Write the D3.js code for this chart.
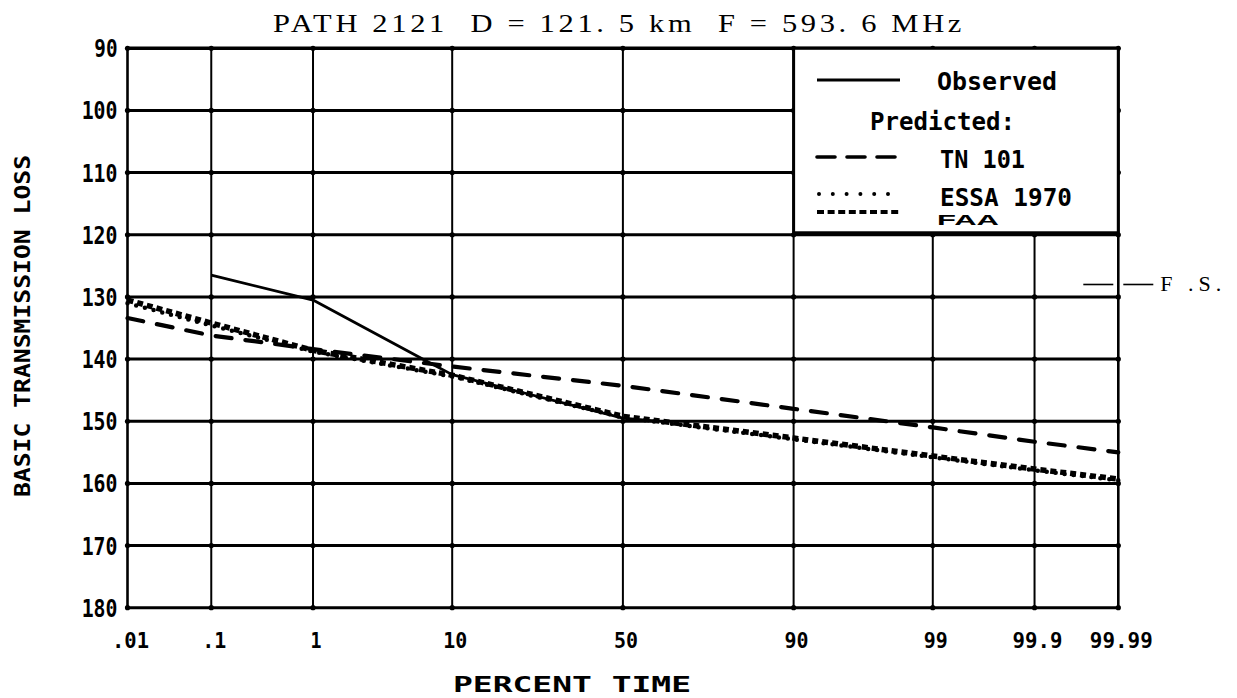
<!DOCTYPE html>
<html>
<head>
<meta charset="utf-8">
<script src="https://cdn.jsdelivr.net/npm/d3@7"></script>
<style>
  html, body { margin: 0; padding: 0; background: #fff; }
  svg { display: block; }
  .plot { font-family: "DejaVu Sans Mono", monospace; font-weight: bold; fill: #000; }
  .serif { font-family: "Liberation Serif", "DejaVu Serif", serif; font-weight: normal; fill: #000; white-space: pre; }
</style>
</head>
<body>
<svg id="chart" width="1237" height="698"></svg>
<script>
// ---------------- data ----------------
const titleText = "PATH 2121  D = 121. 5 km  F = 593. 6 MHz";
const yAxisTitle = "BASIC TRANSMISSION LOSS";
const xAxisTitle = "PERCENT TIME";

const xTickValues = [0.01, 0.1, 1, 10, 50, 90, 99, 99.9, 99.99];
const xTickLabels = [".01", ".1", "1", "10", "50", "90", "99", "99.9", "99.99"];
const yTickValues = [90, 100, 110, 120, 130, 140, 150, 160, 170, 180];

const observedPct  = [0.1, 1, 7, 10, 50, 60];
const observedLoss = [126.5, 130.5, 140.3, 142.5, 149.5, 150];

const predPct   = [0.01, 0.1, 1, 10, 50, 90, 99, 99.9, 99.99];
const tn101Loss = [133.4, 136.2, 138.4, 141.2, 144.3, 148.0, 151.0, 153.3, 155.0];
const essaLoss  = [131.0, 134.6, 138.8, 142.8, 149.4, 152.9, 155.8, 157.9, 159.5];
const faaLoss   = [130.5, 134.2, 138.6, 142.6, 149.2, 152.7, 155.6, 157.7, 159.3];

const freeSpaceLoss = 128;
const freeSpaceLabel = "F .S.";
const legendLabels = ["Observed", "Predicted:", "TN 101", "ESSA 1970", "FAA"];

// ---------------- helpers ----------------
// inverse standard normal CDF (Acklam)
function probit(p) {
  const a = [-3.969683028665376e+01, 2.209460984245205e+02, -2.759285104469687e+02, 1.383577518672690e+02, -3.066479806614716e+01, 2.506628277459239e+00];
  const b = [-5.447609879822406e+01, 1.615858368580409e+02, -1.556989798598866e+02, 6.680131188771972e+01, -1.328068155288572e+01];
  const c = [-7.784894002430293e-03, -3.223964580411365e-01, -2.400758277161838e+00, -2.549732539343734e+00, 4.374664141464968e+00, 2.938163982698783e+00];
  const d = [7.784695709041462e-03, 3.224671290700398e-01, 2.445134137142996e+00, 3.754408661907416e+00];
  const pl = 0.02425, ph = 1 - pl;
  let q, r;
  if (p < pl) {
    q = Math.sqrt(-2 * Math.log(p));
    return (((((c[0]*q+c[1])*q+c[2])*q+c[3])*q+c[4])*q+c[5]) / ((((d[0]*q+d[1])*q+d[2])*q+d[3])*q+1);
  } else if (p <= ph) {
    q = p - 0.5; r = q*q;
    return (((((a[0]*r+a[1])*r+a[2])*r+a[3])*r+a[4])*r+a[5])*q / (((((b[0]*r+b[1])*r+b[2])*r+b[3])*r+b[4])*r+1);
  } else {
    q = Math.sqrt(-2 * Math.log(1 - p));
    return -(((((c[0]*q+c[1])*q+c[2])*q+c[3])*q+c[4])*q+c[5]) / ((((d[0]*q+d[1])*q+d[2])*q+d[3])*q+1);
  }
}

// ---------------- layout ----------------
const svg = d3.select("#chart");
svg.append("rect").attr("width", 1237).attr("height", 698).attr("fill", "#fff");

const pLeft = 127.5, pRight = 1118.3, pTop = 48.3, pBottom = 607.7;

const zScale = d3.scaleLinear()
  .domain([probit(0.0001), probit(0.9999)])
  .range([pLeft, pRight]);
const x = p => zScale(probit(p / 100));
const y = d3.scaleLinear().domain([90, 180]).range([pTop, pBottom]);

// grid: horizontal lines
const grid = svg.append("g");
grid.selectAll("line.h").data(yTickValues).join("line").attr("class", "h")
  .attr("x1", pLeft).attr("x2", pRight)
  .attr("y1", d => y(d)).attr("y2", d => y(d))
  .attr("stroke", "#000").attr("stroke-width", (d, i) => (i === 0 ? 3.4 : 3));
// vertical lines
grid.selectAll("line.v").data(xTickValues).join("line").attr("class", "v")
  .attr("x1", d => x(d)).attr("x2", d => x(d))
  .attr("y1", pTop).attr("y2", pBottom)
  .attr("stroke", "#000").attr("stroke-width", (d, i) => (i === 0 || i === xTickValues.length - 1 ? 2.6 : 2));
// plotter dots at intersections
const inter = [];
xTickValues.forEach(xv => yTickValues.forEach(yv => inter.push([xv, yv])));
grid.selectAll("circle").data(inter).join("circle")
  .attr("cx", d => x(d[0])).attr("cy", d => y(d[1])).attr("r", 2.6).attr("fill", "#000");

// y tick labels
svg.append("g").selectAll("text").data(yTickValues).join("text")
  .attr("class", "plot")
  .attr("x", pLeft - 10).attr("y", d => y(d) + 9)
  .attr("text-anchor", "end")
  .attr("font-size", 24)
  .attr("textLength", d => String(d).length * 12.6 - 2)
  .attr("lengthAdjust", "spacingAndGlyphs")
  .text(d => d);

// x tick labels
svg.append("g").selectAll("text").data(xTickValues).join("text")
  .attr("class", "plot")
  .attr("x", d => x(d) + 3).attr("y", 648)
  .attr("text-anchor", "middle")
  .attr("font-size", 21)
  .attr("textLength", (d, i) => xTickLabels[i].length * 13 - 2)
  .attr("lengthAdjust", "spacingAndGlyphs")
  .text((d, i) => xTickLabels[i]);

// axis titles
svg.append("text").attr("class", "plot")
  .attr("x", 572).attr("y", 692).attr("text-anchor", "middle")
  .attr("font-size", 21)
  .attr("textLength", 238).attr("lengthAdjust", "spacingAndGlyphs")
  .text(xAxisTitle);

svg.append("text").attr("class", "plot")
  .attr("transform", "translate(30,326) rotate(-90)")
  .attr("text-anchor", "middle")
  .attr("font-size", 22)
  .attr("textLength", 342).attr("lengthAdjust", "spacingAndGlyphs")
  .text(yAxisTitle);

// title
svg.append("text").attr("class", "serif")
  .attr("xml:space", "preserve")
  .attr("x", 273).attr("y", 31.5)
  .attr("font-size", 25)
  .attr("letter-spacing", 3)
  .attr("textLength", 692).attr("lengthAdjust", "spacingAndGlyphs")
  .text(titleText);

// ---------------- series ----------------
const line = d3.line().x(d => x(d[0])).y(d => y(d[1]));
const plotG = svg.append("g");

plotG.append("path")
  .datum(predPct.map((p, i) => [p, essaLoss[i]]))
  .attr("d", line).attr("fill", "none").attr("stroke", "#000")
  .attr("stroke-width", 4.5).attr("stroke-linecap", "round")
  .attr("stroke-dasharray", "0,9");

plotG.append("path")
  .datum(predPct.map((p, i) => [p, faaLoss[i]]))
  .attr("d", line).attr("fill", "none").attr("stroke", "#000")
  .attr("stroke-width", 5.5).attr("stroke-dasharray", "6,4");

plotG.append("path")
  .datum(predPct.map((p, i) => [p, tn101Loss[i]]))
  .attr("d", line).attr("fill", "none").attr("stroke", "#000")
  .attr("stroke-width", 4.2).attr("stroke-linecap", "round")
  .attr("stroke-dasharray", "16,14");

plotG.append("path")
  .datum(observedPct.map((p, i) => [p, observedLoss[i]]))
  .attr("d", line).attr("fill", "none").attr("stroke", "#000")
  .attr("stroke-width", 2.8).attr("stroke-linejoin", "round");

// free-space marker
const fsY = y(freeSpaceLoss);
svg.append("line").attr("x1", pRight - 35).attr("x2", pRight - 5).attr("y1", fsY).attr("y2", fsY)
  .attr("stroke", "#000").attr("stroke-width", 1.6);
svg.append("line").attr("x1", pRight + 5).attr("x2", pRight + 35).attr("y1", fsY).attr("y2", fsY)
  .attr("stroke", "#000").attr("stroke-width", 1.6);
svg.append("text").attr("class", "serif")
  .attr("xml:space", "preserve")
  .attr("x", pRight + 42).attr("y", fsY + 7)
  .attr("font-size", 22)
  .attr("letter-spacing", 5)
  .text(freeSpaceLabel);

// ---------------- legend ----------------
const lgX0 = x(90), lgX1 = pRight, lgY0 = pTop, lgY1 = y(120) - 2;
const lg = svg.append("g");
lg.append("rect")
  .attr("x", lgX0).attr("y", lgY0).attr("width", lgX1 - lgX0).attr("height", lgY1 - lgY0)
  .attr("fill", "#fff").attr("stroke", "#000").attr("stroke-width", 3);

const sx0 = 817, sx1 = 900, tx = 937;
lg.append("line").attr("x1", sx0).attr("x2", sx1).attr("y1", 80).attr("y2", 80)
  .attr("stroke", "#000").attr("stroke-width", 2.8);
lg.append("line").attr("x1", sx0).attr("x2", sx1).attr("y1", 157).attr("y2", 157)
  .attr("stroke", "#000").attr("stroke-width", 3.6).attr("stroke-linecap", "round")
  .attr("stroke-dasharray", "18,12");
lg.append("line").attr("x1", sx0 + 2).attr("x2", sx1).attr("y1", 194).attr("y2", 194)
  .attr("stroke", "#000").attr("stroke-width", 4).attr("stroke-linecap", "round")
  .attr("stroke-dasharray", "0,13.8");
lg.append("line").attr("x1", sx0).attr("x2", sx1).attr("y1", 212).attr("y2", 212)
  .attr("stroke", "#000").attr("stroke-width", 4).attr("stroke-dasharray", "7,3.6");

const legendPos = [
  {x: tx, y: 90, w: 120, fs: 24},
  {x: 870, y: 130, w: 145, fs: 24},
  {x: 940, y: 168, w: 85, fs: 24},
  {x: 940, y: 206, w: 132, fs: 24}
];
lg.selectAll("text.lab").data(legendLabels.slice(0, 4)).join("text")
  .attr("class", "plot")
  .attr("x", (d, i) => legendPos[i].x).attr("y", (d, i) => legendPos[i].y)
  .attr("font-size", (d, i) => legendPos[i].fs)
  .attr("textLength", (d, i) => legendPos[i].w).attr("lengthAdjust", "spacingAndGlyphs")
  .text(d => d);
lg.append("text")
  .attr("x", 937).attr("y", 225)
  .attr("font-family", "Liberation Sans, Arial, sans-serif").attr("font-weight", "bold")
  .attr("font-size", 15).attr("textLength", 62).attr("lengthAdjust", "spacingAndGlyphs")
  .text(legendLabels[4]);
</script>
</body>
</html>
